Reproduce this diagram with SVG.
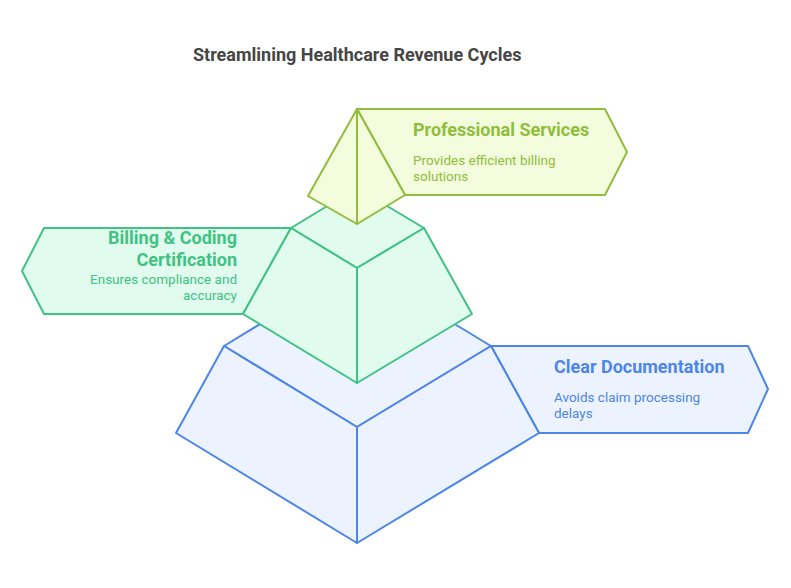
<svg xmlns="http://www.w3.org/2000/svg" width="791" height="588" viewBox="0 0 791 588">
<style>
text{font-family:Roboto,"Liberation Sans",Arial,sans-serif}
.title{font-size:18px;font-weight:700;fill:#464646}
.h{font-size:18px;font-weight:700}
.b{font-size:13.5px;font-weight:400}
.blue path{fill:#ecf3fe;stroke:#4d86e6;stroke-width:2;stroke-linejoin:round}
.green path{fill:#e1fcef;stroke:#3fc283;stroke-width:2;stroke-linejoin:round}
.lime path{fill:#f3fcdc;stroke:#90bd3c;stroke-width:2;stroke-linejoin:round}
.blue text{fill:#4d86e6}
.green text{fill:#3fc283}
.lime text{fill:#90bd3c}
</style>
<rect width="791" height="588" fill="#ffffff"/>
<text class="title" x="193" y="61">Streamlining Healthcare Revenue Cycles</text>
<g id="clear-documentation" class="blue">
<path d="M491,346 L748,346 L768,389 L748,433 L539,433 Z"/>
<path d="M224,346 L357,265 L491,346 L357,427 Z"/>
<path d="M224,346 L357,427 L357,543 L176,433 Z"/>
<path d="M491,346 L539,433 L357,543 L357,427 Z"/>
<text class="h" x="554" y="373">Clear Documentation</text>
<text class="b" x="554" y="402">Avoids claim processing</text>
<text class="b" x="554" y="418">delays</text>
</g>
<g id="billing-coding-certification" class="green">
<path d="M291,228 L44,228 L22,271 L44,314 L243,314 Z"/>
<path d="M291,228 L357,188 L424,228 L357,268 Z"/>
<path d="M291,228 L357,268 L357,383 L243,314 Z"/>
<path d="M424,228 L472,314 L357,383 L357,268 Z"/>
<text class="h" x="237" y="244" text-anchor="end">Billing &amp; Coding</text>
<text class="h" x="237" y="266" text-anchor="end">Certification</text>
<text class="b" x="237" y="284" text-anchor="end">Ensures compliance and</text>
<text class="b" x="237" y="300" text-anchor="end">accuracy</text>
</g>
<g id="professional-services" class="lime">
<path d="M357,109 L605,109 L627,152 L605,195 L405,195 Z"/>
<path d="M357,109 L308,196 L357,224 Z"/>
<path d="M357,109 L357,224 L405,195 Z"/>
<text class="h" x="413" y="136">Professional Services</text>
<text class="b" x="413" y="165">Provides efficient billing</text>
<text class="b" x="413" y="181">solutions</text>
</g>
<g id="connectors"/>
</svg>
